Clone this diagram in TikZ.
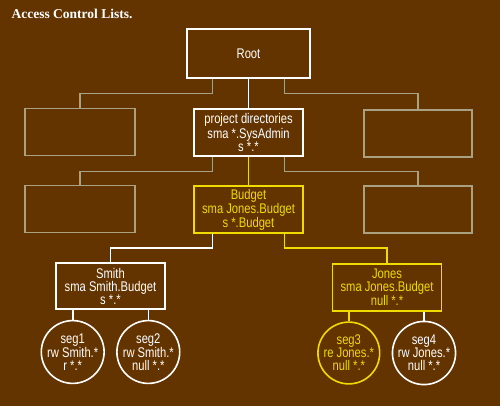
\documentclass[tikz,border=0pt]{standalone}
\usepackage{fontspec}
\setsansfont{Liberation Sans}[FakeStretch=0.8]
\newfontfamily\titlefont{Liberation Serif}
\usetikzlibrary{positioning}
\definecolor{aclbrown}{RGB}{99,51,0}
\definecolor{aclyellow}{RGB}{240,220,0}
\definecolor{aclgray}{RGB}{170,160,130}

\begin{document}
\begin{tikzpicture}[
  x=1pt, y=-1pt,
  box/.style={rectangle, draw=white, line width=1.6pt, minimum width=109pt,
              minimum height=47pt, inner sep=0pt, align=center, text=white,
              font=\sffamily\fontsize{14}{13}\selectfont},
  emptybox/.style={box, draw=aclgray, line width=1.3pt},
  hotbox/.style={box, draw=aclyellow, text=aclyellow},
  seg/.style={circle, draw=white, line width=1.6pt, minimum size=60pt,
              inner sep=0pt, align=center, text=white,
              font=\sffamily\fontsize{14}{13}\selectfont},
  hotseg/.style={seg, draw=aclyellow, text=aclyellow},
  link/.style={draw=white, line width=1.6pt},
  hotlink/.style={link, draw=aclyellow},
  dimlink/.style={draw=aclgray, line width=1.3pt}
]

% background
\useasboundingbox[fill=aclbrown] (0,0) rectangle (500,406);

\node[anchor=base west, text=white, font=\titlefont\bfseries\fontsize{13.5}{13.5}\selectfont]
  (title) at (8,19) {Access Control Lists.};

% top levels
\node[box, minimum width=123pt, minimum height=49pt] (root) at (248.5,53.5) {Root};
\node[box] (project) at (248.5,132.5) {project directories\\sma *.SysAdmin\\s *.*};
\node[emptybox, minimum width=110pt] (left1) at (80,132) {};
\node[emptybox, minimum width=108pt] (right1) at (418,133.5) {};

% budget level
\node[hotbox] (budget) at (248.5,209.5) {Budget\\sma Jones.Budget\\s *.Budget};
\node[emptybox, minimum width=110pt] (left2) at (80,209) {};
\node[emptybox, minimum width=108pt] (right2) at (418,209.5) {};

% users
\node[box, minimum height=46pt] (smith) at (110.5,286) {Smith\\sma Smith.Budget\\s *.*};
\node[hotbox] (jones) at (387,287.5) {Jones\\sma Jones.Budget\\null *.*};

% segments
\node[seg] (seg1) at (72.7,352) {seg1\\rw Smith.*\\r *.*};
\node[seg] (seg2) at (148.3,352) {seg2\\rw Smith.*\\null *.*};
\node[hotseg] (seg3) at (348.8,353) {seg3\\re Jones.*\\null *.*};
\node[seg] (seg4) at (424,353) {seg4\\rw Jones.*\\null *.*};

% connectors
\draw[dimlink] ([xshift=-36pt]root.south) -- ++(0,15) -| (left1.north);
\draw[dimlink] ([xshift=36pt]root.south) -- ++(0,15) -| (right1.north);
\draw[link] (root) -- (project);
\draw[dimlink] ([xshift=-36pt]project.south) -- ++(0,15) -| (left2.north);
\draw[dimlink] ([xshift=36pt]project.south) -- ++(0,15) -| (right2.north);
\draw[hotlink] (project) -- (budget);
\draw[link] ([xshift=-36pt]budget.south) -- ++(0,14) -| (smith.north);
\draw[hotlink] ([xshift=36pt]budget.south) -- ++(0,14) -| (jones.north);
\draw[link] (seg1.north |- smith.south) -- (seg1.north);
\draw[link] (seg2.north |- smith.south) -- (seg2.north);
\draw[hotlink] (seg3.north |- jones.south) -- (seg3.north);
\draw[link] (seg4.north |- jones.south) -- (seg4.north);

\end{tikzpicture}
\end{document}
